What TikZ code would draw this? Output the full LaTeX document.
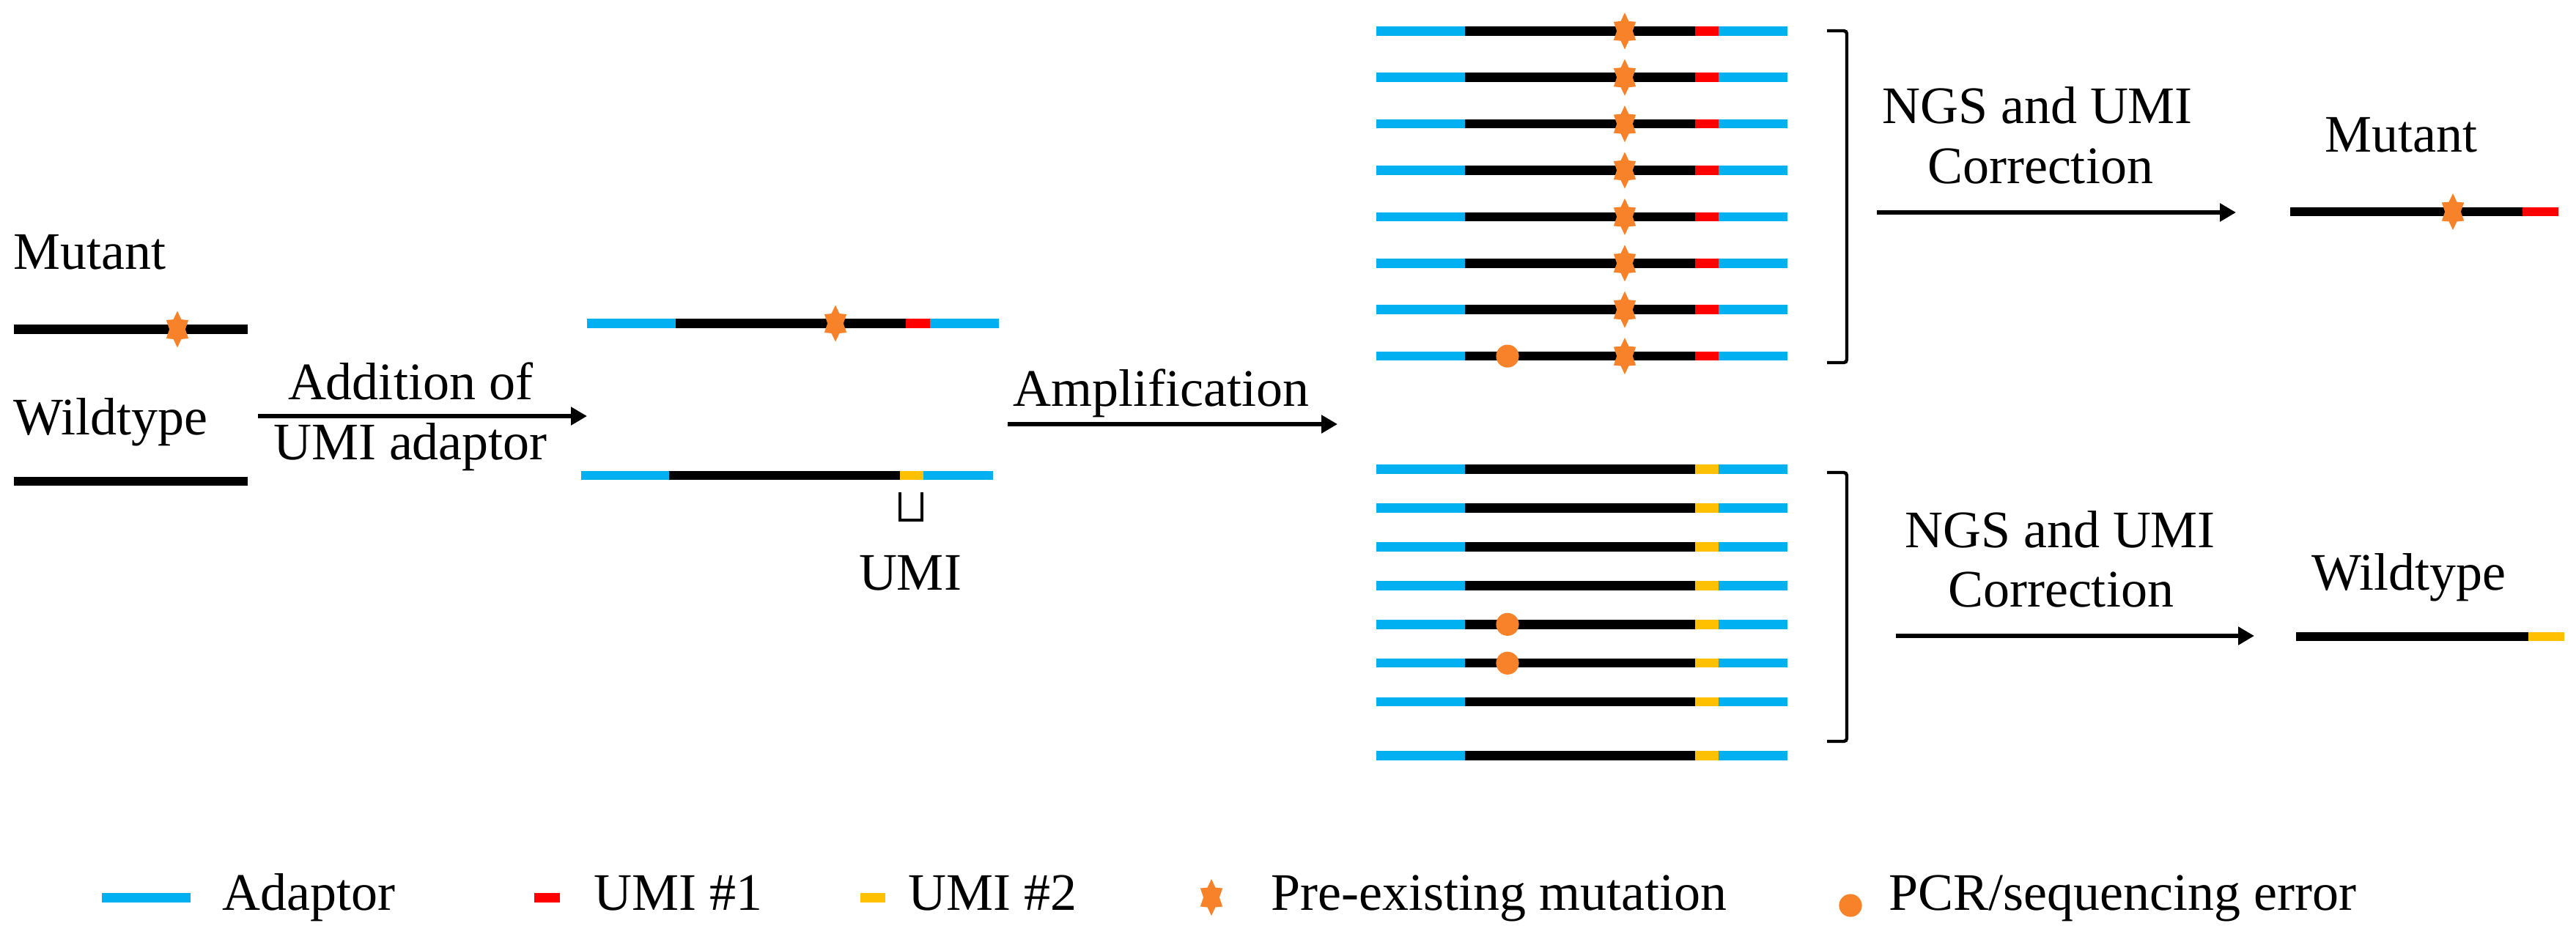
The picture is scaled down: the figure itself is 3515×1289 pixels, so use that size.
\documentclass[tikz,border=0pt]{standalone}
\usepackage{fontspec}
\setmainfont{Liberation Serif}
\usetikzlibrary{arrows.meta}
\definecolor{adcol}{HTML}{00B0F0}
\definecolor{umione}{HTML}{FF0000}
\definecolor{umitwo}{HTML}{FFC000}
\definecolor{mutcol}{HTML}{F8822A}
\newcommand\segm[4]{\fill[#1] (#2,{#4-6.25}) rectangle (#3,{#4+6.25});}
\begin{document}
\begin{tikzpicture}[x=0.25pt,y=-0.25pt,
  txt/.style={font=\fontsize{18pt}{20.5pt}\selectfont, inner sep=0pt, anchor=base},
  flow/.style={line width=1.6pt, -{Triangle[length=5.5pt,width=6pt]}},
  brk/.style={line width=1.1pt, rounded corners=1pt},
  umibrk/.style={line width=1pt},
  mutstar/.pic={\fill[mutcol,xscale=0.7] (90:25) -- (120:15.5) -- (150:25) -- (180:15.5) -- (210:25) -- (240:15.5) -- (270:25) -- (300:15.5) -- (330:25) -- (0:15.5) -- (30:25) -- (60:15.5) -- cycle;},
]
\useasboundingbox (0,0) rectangle (3515,1289);

% ---------- left: input molecules ----------
\node[txt, anchor=base west] (mutL) at (18,367) {Mutant};
\segm{black}{19}{338}{449.5}
\pic at (242,449.5) {mutstar};
\node[txt, anchor=base west] (wtL) at (18,593) {Wildtype};
\segm{black}{19}{338}{657}

% ---------- arrow 1 ----------
\coordinate (a1s) at (352,568);
\coordinate (a1e) at (801,568);
\draw[flow] (a1s) -- (a1e);
\node[txt] (add1) at (560,545) {Addition of};
\node[txt] (add2) at (560,627) {UMI adaptor};

% ---------- middle: tagged molecules ----------
\segm{adcol}{801}{922}{441.5}
\segm{black}{922}{1236}{441.5}
\segm{umione}{1236}{1269}{441.5}
\segm{adcol}{1269}{1363}{441.5}
\pic at (1140,441.5) {mutstar};

\segm{adcol}{793}{913}{649}
\segm{black}{913}{1228}{649}
\segm{umitwo}{1228}{1260}{649}
\segm{adcol}{1260}{1355}{649}
\draw[umibrk] (1228,672) -- (1228,710) -- (1258,710) -- (1258,672);
\node[txt] (umi) at (1242,805) {UMI};

% ---------- arrow 2 ----------
\coordinate (a2s) at (1375,579);
\coordinate (a2e) at (1825,579);
\draw[flow] (a2s) -- (a2e);
\node[txt] (amp) at (1584,554) {Amplification};

% ---------- right: amplified families ----------
\foreach \yy in {42.3,105.7,169.1,232.5,295.9,359.3,422.7,486.1}{
  \segm{adcol}{1878}{1999}{\yy}
  \segm{black}{1999}{2313}{\yy}
  \segm{umione}{2313}{2345}{\yy}
  \segm{adcol}{2345}{2439}{\yy}
  \pic at (2217,\yy) {mutstar};
}
\fill[mutcol] (2057,486.1) circle[radius=3.9pt];

\foreach \yy in {640.7,693.6,746.5,799.4,852.3,905.2,958.1,1031.7}{
  \segm{adcol}{1878}{1999}{\yy}
  \segm{black}{1999}{2313}{\yy}
  \segm{umitwo}{2313}{2345}{\yy}
  \segm{adcol}{2345}{2439}{\yy}
}
\fill[mutcol] (2057,852.3) circle[radius=3.9pt];
\fill[mutcol] (2057,905.2) circle[radius=3.9pt];

\draw[brk] (2493,42) -- (2520,42) -- (2520,495) -- (2493,495);
\draw[brk] (2493,645) -- (2520,645) -- (2520,1012) -- (2493,1012);

% ---------- arrow 3 / mutant consensus ----------
\coordinate (a3s) at (2561,290);
\coordinate (a3e) at (3051,290);
\draw[flow] (a3s) -- (a3e);
\node[txt] (ngs1) at (2780,168) {NGS and UMI};
\node[txt] (cor1) at (2784,250) {Correction};
\node[txt] (mutR) at (3276,207) {Mutant};
\segm{black}{3125}{3442}{289}
\segm{umione}{3442}{3491}{289}
\pic at (3347,289) {mutstar};

% ---------- arrow 4 / wildtype consensus ----------
\coordinate (a4s) at (2587,868);
\coordinate (a4e) at (3076,868);
\draw[flow] (a4s) -- (a4e);
\node[txt] (ngs2) at (2811,747) {NGS and UMI};
\node[txt] (cor2) at (2812,828) {Correction};
\node[txt] (wtR) at (3287,805) {Wildtype};
\segm{black}{3133}{3450}{869}
\segm{umitwo}{3450}{3499}{869}

% ---------- legend ----------
\segm{adcol}{139}{260}{1225.5}
\node[txt, anchor=base west] (lgA) at (303,1242) {Adaptor};
\segm{umione}{729}{764}{1225.5}
\node[txt, anchor=base west] (lgU1) at (810,1242) {UMI \#1};
\segm{umitwo}{1174}{1208}{1225.5}
\node[txt, anchor=base west] (lgU2) at (1239,1242) {UMI \#2};
\pic at (1653,1225) {mutstar};
\node[txt, anchor=base west] (lgM) at (1734,1242) {Pre-existing mutation};
\fill[mutcol] (2525,1236) circle[radius=3.9pt];
\node[txt, anchor=base west] (lgE) at (2577,1242) {PCR/sequencing error};
\end{tikzpicture}
\end{document}
